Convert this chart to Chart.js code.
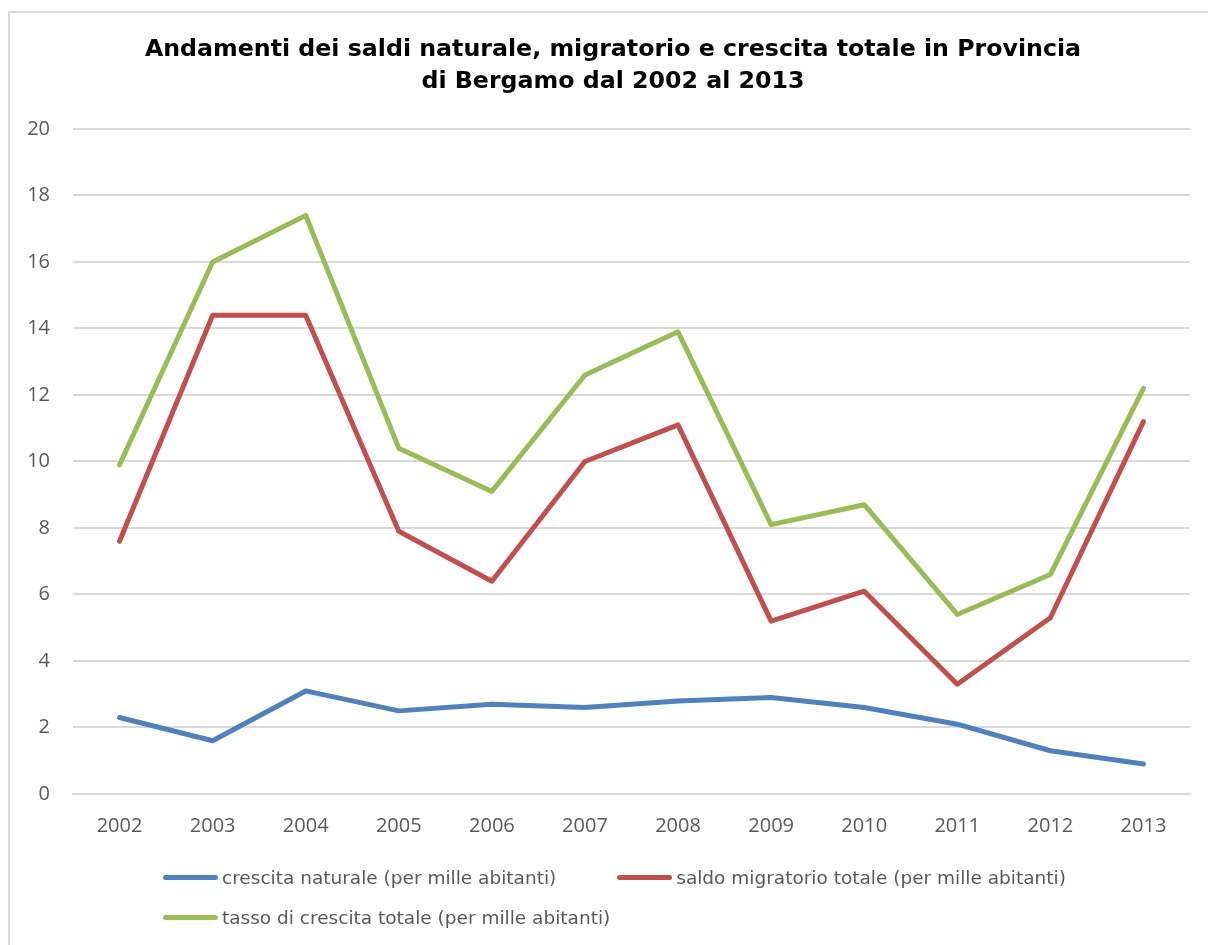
<!DOCTYPE html>
<html>
<head>
<meta charset="utf-8">
<script src="https://cdn.jsdelivr.net/npm/chart.js@4/dist/chart.umd.min.js"></script>
<style>
  html, body { margin: 0; padding: 0; background: #fff; }
  #wrap { position: relative; width: 1208px; height: 945px; overflow: hidden; }
  #frame { position: absolute; left: 8px; top: 11px; width: 1260px; height: 1000px;
           border: 2px solid #d9d9d9; box-sizing: border-box; }
  canvas { position: absolute; left: 0; top: 0; }
  #legend { position: absolute; left: 163px; top: 862px; width: 940px;
            display: flex; flex-wrap: wrap; column-gap: 61px; row-gap: 10px;
            font-family: "DejaVu Sans", sans-serif;
            font-size: 18.5px; color: #595959; }
  .item { display: flex; align-items: center; height: 30px; }
  .swatch { width: 55px; height: 5px; border-radius: 3px; margin-right: 4px; }
</style>
</head>
<body>
<div id="wrap">
  <div id="frame"></div>
  <canvas id="line-chart" width="1208" height="945"></canvas>
  <div id="legend"></div>
</div>
<script>
var years = ["2002", "2003", "2004", "2005", "2006", "2007", "2008", "2009", "2010", "2011", "2012", "2013"];
var naturale = [2.3, 1.6, 3.1, 2.5, 2.7, 2.6, 2.8, 2.9, 2.6, 2.1, 1.3, 0.9];
var migratorio = [7.6, 14.4, 14.4, 7.9, 6.4, 10.0, 11.1, 5.2, 6.1, 3.3, 5.3, 11.2];
var totale = [9.9, 16.0, 17.4, 10.4, 9.1, 12.6, 13.9, 8.1, 8.7, 5.4, 6.6, 12.2];
var seriesNames = ["crescita naturale (per mille abitanti)",
                   "saldo migratorio totale (per mille abitanti)",
                   "tasso di crescita totale (per mille abitanti)"];
var seriesColors = ["#4f81bd", "#c0504d", "#9bbb59"];

function makeSet(i, values) {
  return {
    label: seriesNames[i],
    data: values,
    borderColor: seriesColors[i],
    backgroundColor: seriesColors[i],
    borderWidth: 5,
    borderCapStyle: 'round',
    borderJoinStyle: 'round',
    pointRadius: 0,
    tension: 0,
    fill: false
  };
}

// centre the title over the framed area rather than the whole canvas
var titleShift = {
  id: 'titleShift',
  afterLayout: function(chart) {
    if (chart.titleBlock) chart.titleBlock.left = 36;
  }
};

var chart = new Chart(document.getElementById("line-chart"), {
  type: 'line',
  data: {
    labels: years,
    datasets: [makeSet(0, naturale), makeSet(1, migratorio), makeSet(2, totale)]
  },
  plugins: [titleShift],
  options: {
    responsive: false,
    animation: false,
    layout: { padding: { left: 0, right: 18, top: 0, bottom: 91 } },
    plugins: {
      legend: { display: false },
      tooltip: { enabled: false },
      title: {
        display: true,
        text: ['Andamenti dei saldi naturale, migratorio e crescita totale in Provincia',
               'di Bergamo dal 2002 al 2013'],
        color: '#000',
        font: { family: '"DejaVu Sans", sans-serif', size: 23.7, weight: 'bold', lineHeight: 1.35 },
        padding: { top: 34, bottom: 31 }
      }
    },
    scales: {
      x: {
        offset: true,
        grid: { display: false, drawTicks: false },
        border: { display: true, color: '#d9d9d9', width: 2 },
        ticks: { color: '#595959', padding: 20, font: { family: '"Open Sans", sans-serif', size: 20 } },
        afterFit: function(scale) { scale.height = 60; }
      },
      y: {
        min: 0,
        max: 20,
        ticks: { stepSize: 2, color: '#595959', padding: 23, font: { family: '"Open Sans", sans-serif', size: 20 } },
        grid: { color: '#d9d9d9', lineWidth: 2, drawTicks: false },
        border: { display: false },
        afterFit: function(scale) { scale.width = 73; }
      }
    }
  }
});

// legend built from the same series arrays
var legend = document.getElementById("legend");
seriesNames.forEach(function(name, i) {
  var item = document.createElement("div");
  item.className = "item";
  var sw = document.createElement("span");
  sw.className = "swatch";
  sw.style.background = seriesColors[i];
  var txt = document.createElement("span");
  txt.textContent = name;
  item.appendChild(sw);
  item.appendChild(txt);
  legend.appendChild(item);
});
</script>
</body>
</html>
